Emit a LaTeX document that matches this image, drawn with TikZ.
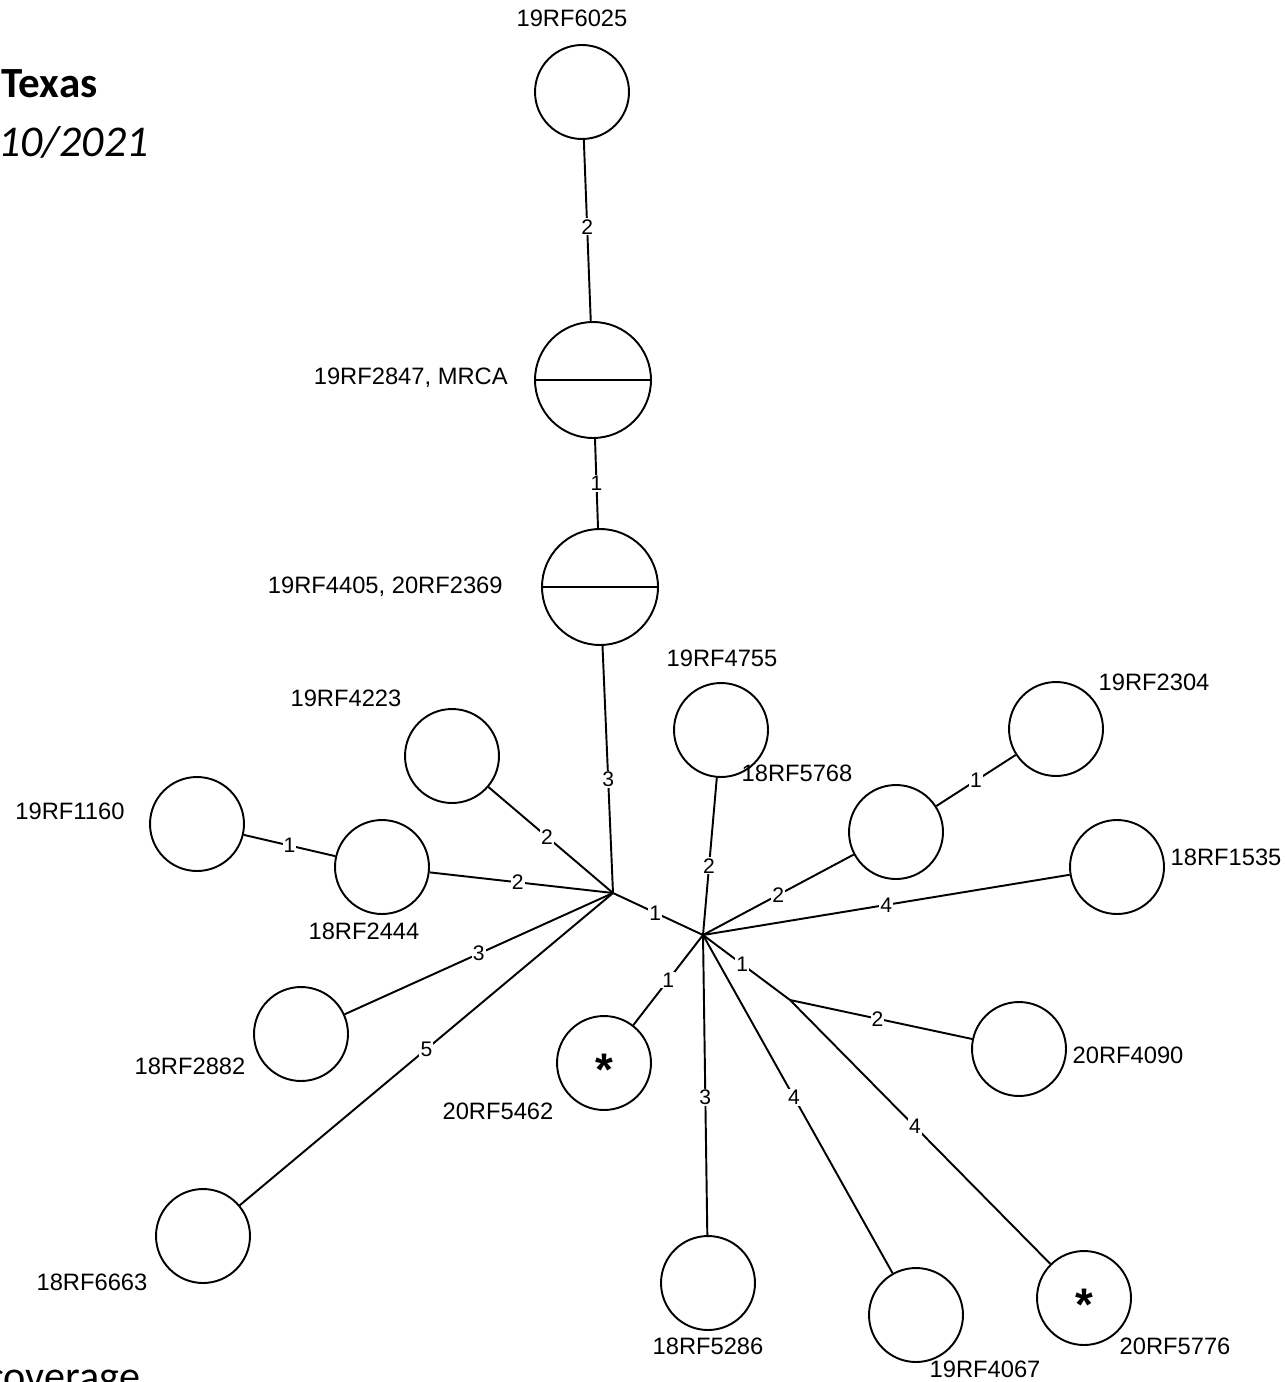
\documentclass[tikz,border=0pt]{standalone}
\usepackage{fontspec}
\setmainfont{Liberation Sans}
\newfontfamily\calfont{Carlito}
\usetikzlibrary{positioning}

\tikzstyle{hap} = [circle, draw=black, line width=1.1pt, minimum size=1.88cm, inner sep=0pt, font=\fontsize{26}{26}\selectfont\bfseries]
\tikzstyle{bighap} = [hap, minimum size=2.32cm]
\tikzstyle{hapname} = [inner sep=0pt, font=\fontsize{13.5}{15}\selectfont]
\tikzstyle{steps} = [fill=white, inner sep=0.6pt, font=\fontsize{12}{13}\selectfont]
\tikzstyle{link} = [-, draw=black, line width=1.1pt]
\tikzstyle{heading} = [inner sep=0pt, font=\calfont\fontsize{24}{28}\selectfont]
\newcommand{\hapmark}{\raisebox{-0.5em}[0pt][0pt]{*}}

\begin{document}
\begin{tikzpicture}[x=0.02cm, y=-0.02cm]
    \useasboundingbox (0,0) rectangle (1286,1382);

    % haplotypes
    \node (h6025) [hap] at (582,92) {};
    \node (h2847) [bighap] at (593,380) {};
    \node (h4405) [bighap] at (600,587) {};
    \node (h4755) [hap] at (721,730) {};
    \node (h2304) [hap] at (1056,729) {};
    \node (h4223) [hap] at (452,756) {};
    \node (h1160) [hap] at (197,824) {};
    \node (h2444) [hap] at (382,867) {};
    \node (h5768) [hap] at (896,832) {};
    \node (h1535) [hap] at (1117,867) {};
    \node (h2882) [hap] at (301,1034) {};
    \node (h5462) [hap] at (604,1063) {\hapmark};
    \node (h4090) [hap] at (1019,1049) {};
    \node (h6663) [hap] at (203,1236) {};
    \node (h5286) [hap] at (708,1283) {};
    \node (h4067) [hap] at (916,1315) {};
    \node (h5776) [hap] at (1084,1298) {\hapmark};
    \draw [link] (h2847.west) -- (h2847.east);
    \draw [link] (h4405.west) -- (h4405.east);

    % median vectors
    \coordinate (j1) at (613,893);
    \coordinate (j2) at (703,935);
    \coordinate (j3) at (790,1000);

    % names
    \node (t6025) [hapname] at (572,18) {19RF6025};
    \node (t2847) [hapname, anchor=east] at (508,378) {19RF2847, MRCA};
    \node (t4405) [hapname, anchor=east] at (503,587) {19RF4405, 20RF2369};
    \node (t4755) [hapname] at (722,658) {19RF4755};
    \node (t2304) [hapname] at (1154,682) {19RF2304};
    \node (t4223) [hapname] at (346,698) {19RF4223};
    \node (t1160) [hapname] at (70,811) {19RF1160};
    \node (t2444) [hapname] at (364,931) {18RF2444};
    \node (t5768) [hapname] at (797,773) {18RF5768};
    \node (t1535) [hapname] at (1226,857) {18RF1535};
    \node (t2882) [hapname] at (190,1066) {18RF2882};
    \node (t5462) [hapname] at (498,1111) {20RF5462};
    \node (t4090) [hapname] at (1128,1055) {20RF4090};
    \node (t6663) [hapname] at (92,1282) {18RF6663};
    \node (t5286) [hapname] at (708,1346) {18RF5286};
    \node (t4067) [hapname] at (985,1369) {19RF4067};
    \node (t5776) [hapname] at (1175,1346) {20RF5776};

    \node (title) [heading, anchor=base west, font=\calfont\fontsize{24.5}{28}\selectfont\bfseries] at (1,98) {Texas};
    \node (date) [heading, anchor=base east, font=\calfont\fontsize{25}{28}\selectfont\itshape] at (149,157) {10/2021};
    \node (note) [heading, anchor=base west] at (-14,1390) {coverage};

    % mutational steps
    \draw [link] (h6025) -- node[steps, pos=0.48] (s1) {2} (h2847);
    \draw [link] (h2847) -- node[steps] (s2) {1} (h4405);
    \draw [link] (h4405) -- node[steps, pos=0.54] (s3) {3} (j1);
    \draw [link] (h4223) -- node[steps, pos=0.47] (s4) {2} (j1);
    \draw [link] (h1160) -- node[steps] (s5) {1} (h2444);
    \draw [link] (h2444) -- node[steps, pos=0.48] (s6) {2} (j1);
    \draw [link] (h2882) -- node[steps] (s7) {3} (j1);
    \draw [link] (h6663) -- node[steps] (s8) {5} (j1);
    \draw [link] (j1) -- node[steps, pos=0.47] (s9) {1} (j2);
    \draw [link] (h4755) -- node[steps, pos=0.56] (s10) {2} (j2);
    \draw [link] (h5768) -- node[steps] (s11) {2} (j2);
    \draw [link] (h5768) -- node[steps] (s12) {1} (h2304);
    \draw [link] (h1535) -- node[steps] (s13) {4} (j2);
    \draw [link] (j2) -- node[steps] (s14) {1} (h5462);
    \draw [link] (j2) -- node[steps, pos=0.45] (s15) {1} (j3);
    \draw [link] (j3) -- node[steps, pos=0.48] (s16) {2} (h4090);
    \draw [link] (j3) -- node[steps, pos=0.48] (s17) {4} (h5776);
    \draw [link] (j2) -- node[steps, pos=0.54] (s18) {3} (h5286);
    \draw [link] (j2) -- node[steps, pos=0.48] (s19) {4} (h4067);
\end{tikzpicture}
\end{document}
